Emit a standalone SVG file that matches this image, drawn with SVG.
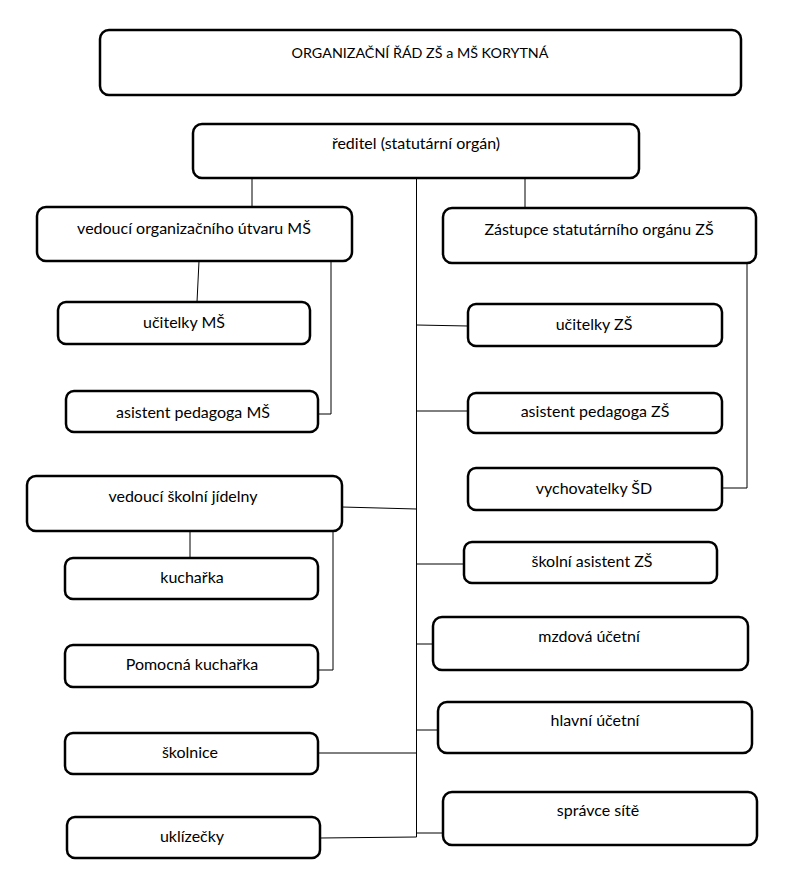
<svg xmlns="http://www.w3.org/2000/svg" width="792" height="874" viewBox="0 0 792 874">
<style>
.box{fill:#fff;stroke:#000;stroke-width:2.5}
.lbl{font-family:Lato,"Liberation Sans",sans-serif;font-size:16px;fill:#000;text-anchor:middle}
.ttl{font-size:14.3px}
.con line,.con polyline{stroke:#000;stroke-width:1;fill:none}
</style>
<rect width="792" height="874" fill="#fff"/>
<g class="con" id="connectors">
<line x1="252" y1="178" x2="252" y2="208"/>
<line x1="416.5" y1="178" x2="416.5" y2="837"/>
<line x1="525" y1="178" x2="525" y2="208"/>
<line x1="199" y1="261" x2="197" y2="302"/>
<polyline points="331,261 331,414 318,414"/>
<line x1="416.5" y1="325" x2="468" y2="326"/>
<line x1="416.5" y1="411" x2="468" y2="411"/>
<polyline points="747,263 747,488 722,488"/>
<line x1="342" y1="507" x2="416.5" y2="509"/>
<line x1="190" y1="531" x2="190" y2="558"/>
<polyline points="333,531 333,670 318,670"/>
<line x1="416.5" y1="564" x2="464" y2="564"/>
<line x1="416.5" y1="644" x2="433" y2="644"/>
<line x1="416.5" y1="730" x2="438" y2="730"/>
<line x1="318" y1="753" x2="416.5" y2="753"/>
<line x1="416.5" y1="833" x2="443" y2="833"/>
<line x1="320" y1="838" x2="416.5" y2="837"/>
</g>
<g id="title"><rect class="box" x="100" y="30" width="641" height="65" rx="9"/><text class="lbl ttl" x="420" y="58">ORGANIZAČNÍ ŘÁD ZŠ a MŠ KORYTNÁ</text></g>
<g id="reditel"><rect class="box" x="193" y="124" width="446" height="54" rx="9"/><text class="lbl" x="416" y="149">ředitel (statutární orgán)</text></g>
<g id="vedouci-ms"><rect class="box" x="37" y="207" width="315" height="54" rx="9"/><text class="lbl" x="194" y="234">vedoucí organizačního útvaru MŠ</text></g>
<g id="zastupce"><rect class="box" x="443" y="208" width="313" height="55" rx="9"/><text class="lbl" x="599" y="235">Zástupce statutárního orgánu ZŠ</text></g>
<g id="ucitelky-ms"><rect class="box" x="58" y="302" width="252" height="42" rx="8"/><text class="lbl" x="184" y="328">učitelky MŠ</text></g>
<g id="asistent-ms"><rect class="box" x="66" y="391" width="252" height="41" rx="8"/><text class="lbl" x="193" y="418">asistent pedagoga MŠ</text></g>
<g id="ucitelky-zs"><rect class="box" x="468" y="304" width="254" height="42" rx="8"/><text class="lbl" x="594" y="330">učitelky ZŠ</text></g>
<g id="asistent-zs"><rect class="box" x="468" y="393" width="254" height="40" rx="8"/><text class="lbl" x="595" y="417">asistent pedagoga ZŠ</text></g>
<g id="vychovatelky"><rect class="box" x="468" y="468" width="254" height="42" rx="8"/><text class="lbl" x="594" y="494">vychovatelky ŠD</text></g>
<g id="vedouci-sj"><rect class="box" x="27" y="476" width="315" height="55" rx="9"/><text class="lbl" x="183" y="502">vedoucí školní jídelny</text></g>
<g id="kucharka"><rect class="box" x="65" y="558" width="253" height="41" rx="8"/><text class="lbl" x="192" y="583">kuchařka</text></g>
<g id="pomocna-kucharka"><rect class="box" x="65" y="645" width="253" height="42" rx="8"/><text class="lbl" x="192" y="670">Pomocná kuchařka</text></g>
<g id="skolni-asistent"><rect class="box" x="464" y="542" width="253" height="41" rx="8"/><text class="lbl" x="592" y="567">školní asistent ZŠ</text></g>
<g id="mzdova"><rect class="box" x="433" y="617" width="315" height="53" rx="9"/><text class="lbl" x="589" y="642">mzdová účetní</text></g>
<g id="hlavni"><rect class="box" x="438" y="702" width="314" height="51" rx="9"/><text class="lbl" x="595" y="726">hlavní účetní</text></g>
<g id="skolnice"><rect class="box" x="65" y="733" width="253" height="41" rx="8"/><text class="lbl" x="190" y="758">školnice</text></g>
<g id="spravce"><rect class="box" x="443" y="792" width="314" height="53" rx="9"/><text class="lbl" x="598" y="816">správce sítě</text></g>
<g id="uklizecky"><rect class="box" x="67" y="817" width="253" height="41" rx="8"/><text class="lbl" x="192" y="842">uklízečky</text></g>
</svg>
